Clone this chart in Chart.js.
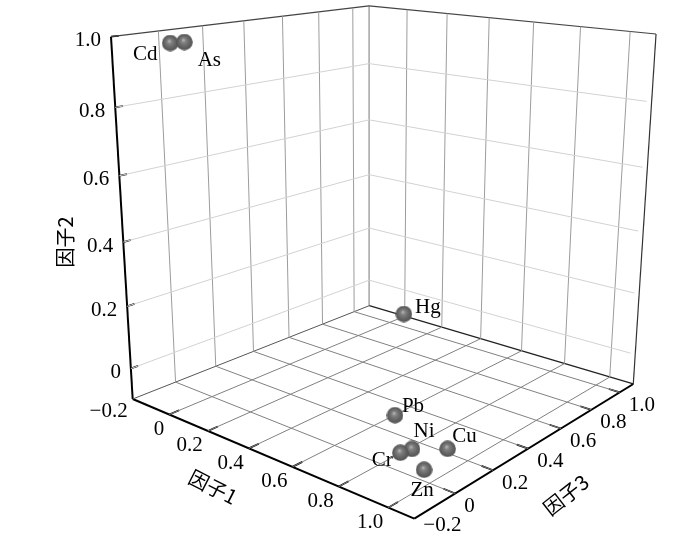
<!DOCTYPE html>
<html><head><meta charset="utf-8">
<style>html,body{margin:0;padding:0;background:#fff}canvas{display:block}</style>
<script src="https://cdn.jsdelivr.net/npm/chart.js@4"></script>
</head><body><canvas id="c" width="700" height="542"></canvas>
<script>
const elements = ["Cd","As","Hg","Pb","Ni","Cr","Cu","Zn"];
const factor1 = [-0.141,-0.125,0.282,0.924,0.958,0.947,0.970,1.001];
const factor2 = [0.97,0.97,0.05,0.10,0,0,-0.05,-0.05];
const factor3 = [0.000,0.049,0.748,-0.079,-0.037,-0.080,0.130,-0.030];
const ticks1 = [-0.2,0,0.2,0.4,0.6,0.8,1.0];
const ticks2 = [0,0.2,0.4,0.6,0.8,1.0];
const ticks3 = [-0.2,0,0.2,0.4,0.6,0.8,1.0];
const range1 = [-0.2,1.1], range2 = [-0.1,1.0], range3 = [-0.2,1.1];
const title1 = "因子1", title2 = "因子2", title3 = "因子3";

// perspective view of the unit box
function view(u,v,w){
  const d = 1 - 0.18122*u - 0.083*v + 0.21699*w;
  return {x:(132.7 + 206.52*u - 30.9*v + 316.73*w)/d,
          y:(399 + 25.70*u - 365.35*v - 26.97*w)/d};
}
const nu = a => (a-range1[0])/(range1[1]-range1[0]);
const nv = a => (a-range2[0])/(range2[1]-range2[0]);
const nw = a => (a-range3[0])/(range3[1]-range3[0]);
const ball = (()=>{
  const s=17,c=document.createElement('canvas');c.width=c.height=s;
  const g=c.getContext('2d'),r=s/2;
  const gr=g.createRadialGradient(r-1,r-2,0.5,r,r,r);
  gr.addColorStop(0,'#b4b4b4');gr.addColorStop(0.22,'#828282');gr.addColorStop(0.6,'#676767');gr.addColorStop(1,'#505050');
  g.fillStyle=gr;g.beginPath();g.arc(r,r,r-0.2,0,7);g.fill();return c;
})();
const lines=[];
const seg=(a,b,color,width)=>lines.push({type:'scatter',showLine:true,pointRadius:0,borderColor:color,borderWidth:width,data:[view(...a),view(...b)],clip:false});

// wall lines of constant factor 2
ticks2.slice(0,-1).forEach(t=>{const v=nv(t);
  seg([0,v,0],[0,v,1],'#d2d2d2',1);
  seg([0,v,1],[0.985,v,1],'#d2d2d2',1);});
// wall lines going up
ticks3.slice(1).forEach(t=>seg([0,0,nw(t)],[0,1,nw(t)],'#9c9c9c',1));
ticks1.slice(1).forEach(t=>seg([nu(t),0,1],[nu(t),1,1],'#9c9c9c',1));
// floor
ticks1.slice(1).forEach(t=>seg([nu(t),0,0],[nu(t),0,1],'#808080',1));
ticks3.slice(1).forEach(t=>seg([0,0,nw(t)],[1,0,nw(t)],'#808080',1));
// box edges
seg([0,0,0],[0,0,1],'#555',1);
seg([0,0,1],[1,0,1],'#222',1.3);
seg([0,1,0],[0,1,1],'#444',1.2);
seg([0,1,1],[1,1,1],'#444',1.2);
seg([0,0,1],[0,1,1],'#777',1);
seg([1,0,1],[1,1,1],'#333',1.2);
// axes with ticks
seg([0,0,0],[1,0,0],'#000',2);
seg([1,0,0],[1,0,1],'#000',2);
seg([0,0,0],[0,1,0],'#000',2);
ticks1.slice(1).forEach(t=>seg([nu(t),0,0],[nu(t),0,0.035],'#000',1.7));
ticks3.slice(1).forEach(t=>seg([1,0,nw(t)],[0.965,0,nw(t)],'#000',1.7));
ticks2.forEach(t=>seg([0,nv(t),0],[0,nv(t),0.025],'#000',1.7));

const pts = elements.map((n,i)=>view(nu(factor1[i]),nv(factor2[i]),nw(factor3[i])));
const markers={type:'scatter',data:pts,pointStyle:ball,pointRadius:8.5,clip:false};

const labelShift={Cd:[-25,11],As:[25,18],Hg:[24,-7],Pb:[18,-9],Ni:[12,-17],Cr:[-18,8],Cu:[17,-12],Zn:[-2,21]};
const txt={id:'txt',afterDatasetsDraw(ch){
  const c=ch.ctx,X=ch.scales.x,Y=ch.scales.y;
  const at=p=>[X.getPixelForValue(p.x),Y.getPixelForValue(p.y)];
  c.save();c.fillStyle='#000';c.font='21px "Liberation Serif"';c.textBaseline='middle';
  const fmt=t=>t===0?'0':(t<0?'\u2212':'')+Math.abs(t).toFixed(1);
  c.textAlign='right';
  ticks1.forEach(t=>{const [x,y]=at(view(nu(t),0,0));c.fillText(fmt(t),x-5,y+(t<0?12:15));});
  ticks2.forEach(t=>{const [x,y]=at(view(0,nv(t),0));c.fillText(fmt(t),x-10,y+4);});
  c.textAlign='left';
  ticks3.forEach(t=>{const [x,y]=at(view(1,0,nw(t)));c.fillText(fmt(t),x+9,y+(t<0?7:13));});
  c.textAlign='center';
  elements.forEach((n,i)=>{const [x,y]=at(pts[i]);const s=labelShift[n];c.fillText(n,x+s[0],y+s[1]);});
  const cjk='20px "Noto Sans CJK SC"';
  const title=(t,x,y,a)=>{c.save();c.translate(x,y);c.rotate(a*Math.PI/180);c.font=cjk;c.fillText(t,0,0);c.restore();};
  title(title1,213,487,27);
  title(title2,65,242,-90);
  title(title3,566,495,-38);
  c.restore();
}};
new Chart(document.getElementById('c'),{
  type:'scatter',
  data:{datasets:[markers,...lines]},
  options:{responsive:false,animation:false,
    layout:{padding:0,autoPadding:false},
    plugins:{legend:{display:false},tooltip:{enabled:false}},
    scales:{x:{type:'linear',display:false,min:0,max:700},y:{type:'linear',display:false,min:0,max:542,reverse:true}}},
  plugins:[txt]
});
</script></body></html>
